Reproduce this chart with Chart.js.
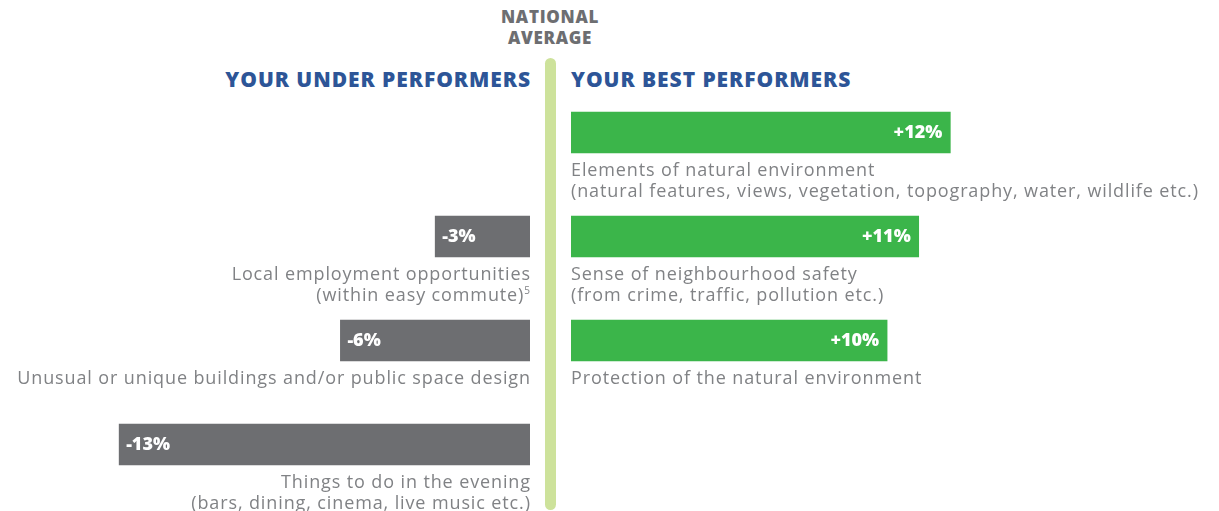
<!DOCTYPE html>
<html>
<head>
<meta charset="utf-8">
<script src="https://cdn.jsdelivr.net/npm/chart.js@4"></script>
<style>
    html, body { margin: 0; padding: 0; background: #ffffff; }
    body { width: 1219px; height: 511px; position: relative; overflow: hidden; font-family: 'Open Sans', sans-serif; }
    canvas { position: absolute; top: 0; }
    .avg-title { position: absolute; left: 450px; width: 200px; top: 6px; text-align: center; color: #6d6e71; font-weight: 800; font-size: 17px; line-height: 21px; letter-spacing: 0.7px; }
    .avg-line { position: absolute; left: 545px; width: 11px; top: 58px; height: 452px; background: #cde29b; border-radius: 6px; }
    .side-title { position: absolute; top: 65px; color: #2d5597; font-weight: 800; font-size: 21px; line-height: 28px; letter-spacing: 0.95px; white-space: nowrap; }
</style>
</head>
<body>
<div class="avg-title">NATIONAL<br>AVERAGE</div>
<div class="avg-line"></div>
<div class="side-title" style="right: 688px;">YOUR UNDER PERFORMERS</div>
<div class="side-title" style="left: 571px;">YOUR BEST PERFORMERS</div>
<canvas id="under-chart" width="530" height="511" style="left:0"></canvas>
<canvas id="best-chart" width="648" height="511" style="left:571px"></canvas>
<script>
// Rows are shared by both sides, top to bottom
const rows = ['row1', 'row2', 'row3', 'row4'];

// Under performers (left, below the national average)
const underValues = [null, -3, -6, -13];
const underLabels = [
    [],
    ['Local employment opportunities', '(within easy commute)^5'],
    ['Unusual or unique buildings and/or public space design'],
    ['Things to do in the evening', '(bars, dining, cinema, live music etc.)']
];

// Best performers (right, above the national average)
const bestValues = [12, 11, 10, null];
const bestLabels = [
    ['Elements of natural environment', '(natural features, views, vegetation, topography, water, wildlife etc.)'],
    ['Sense of neighbourhood safety', '(from crime, traffic, pollution etc.)'],
    ['Protection of the natural environment'],
    []
];

const GREEN = '#3bb54a';
const GREY = '#6d6e71';
const LABEL_COLOR = '#808285';
const LABEL_FONT = "18px 'Open Sans', sans-serif";
const LABEL_SPACING = '0.88px';

// Draws the value inside each bar and the description lines under it
const barTextPlugin = {
    id: 'barText',
    afterDatasetsDraw(chart, args, opts) {
        const ctx = chart.ctx;
        const meta = chart.getDatasetMeta(0);
        const values = chart.data.datasets[0].data;
        ctx.save();
        meta.data.forEach((bar, i) => {
            const value = values[i];
            if (value === null || value === undefined) return;
            const left = Math.min(bar.x, bar.base);
            const right = Math.max(bar.x, bar.base);
            const bottom = bar.y + bar.height / 2;

            // value inside the bar
            ctx.fillStyle = '#ffffff';
            ctx.font = "800 18px 'Open Sans', sans-serif";
            ctx.letterSpacing = '0px';
            ctx.textBaseline = 'middle';
            const txt = (value > 0 ? '+' : '') + value + '%';
            if (opts.side === 'right') {
                ctx.textAlign = 'right';
                ctx.fillText(txt, right - 8, bar.y);
            } else {
                ctx.textAlign = 'left';
                ctx.fillText(txt, left + 7, bar.y);
            }

            // description lines under the bar
            const lines = opts.labels[i] || [];
            ctx.fillStyle = LABEL_COLOR;
            ctx.textBaseline = 'alphabetic';
            lines.forEach((line, j) => {
                const y = bottom + 22.5 + j * 21;
                const parts = line.split('^');
                ctx.font = LABEL_FONT;
                ctx.letterSpacing = LABEL_SPACING;
                if (opts.side === 'right') {
                    ctx.textAlign = 'left';
                    ctx.fillText(parts[0], left, y);
                } else {
                    let x = right + 0.9;
                    if (parts[1]) {
                        ctx.font = "10px 'Open Sans', sans-serif";
                        ctx.letterSpacing = '0px';
                        ctx.textAlign = 'right';
                        ctx.fillText(parts[1], right, y - 7);
                        x = right - ctx.measureText(parts[1]).width;
                        ctx.font = LABEL_FONT;
                        ctx.letterSpacing = LABEL_SPACING;
                    }
                    ctx.textAlign = 'right';
                    ctx.fillText(parts[0], x, y);
                }
            });
        });
        ctx.restore();
    }
};

function buildChart(canvasId, values, labels, color, min, max, side) {
    const canvas = document.getElementById(canvasId);
    return new Chart(canvas, {
        type: 'bar',
        data: {
            labels: rows,
            datasets: [{
                data: values,
                backgroundColor: color,
                borderWidth: 0,
                barThickness: 41,
                categoryPercentage: 1
            }]
        },
        options: {
            indexAxis: 'y',
            responsive: false,
            animation: false,
            layout: {
                padding: { top: 80.5, bottom: 14.5, left: 0, right: 0 }
            },
            plugins: {
                legend: { display: false },
                tooltip: { enabled: false },
                barText: { labels: labels, side: side }
            },
            scales: {
                x: { display: false, min: min, max: max },
                y: { display: false }
            }
        },
        plugins: [barTextPlugin]
    });
}

buildChart('under-chart', underValues, underLabels, GREY, -16.77, 0, 'left');
buildChart('best-chart', bestValues, bestLabels, GREEN, 0, 20.5, 'right');
</script>
</body>
</html>
